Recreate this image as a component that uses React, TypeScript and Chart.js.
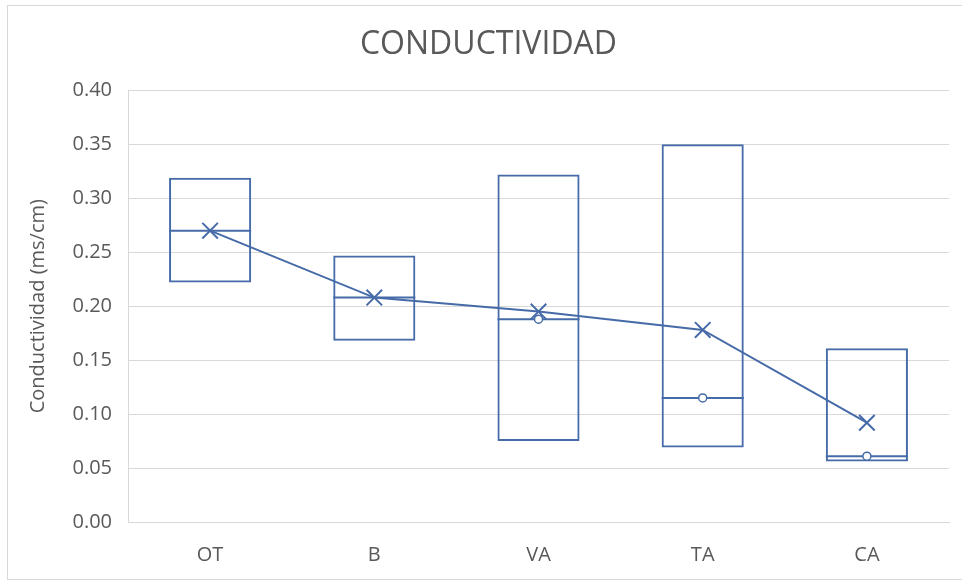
import React, { useEffect, useRef } from "react";
import { Chart, registerables } from "chart.js";

Chart.register(...registerables);

const categories = ["OT", "B", "VA", "TA", "CA"];
const q1 = [0.222, 0.168, 0.075, 0.069, 0.056];
const q3 = [0.319, 0.247, 0.322, 0.35, 0.161];
const medians = [0.27, 0.208, 0.188, 0.115, 0.061];
const means = [0.27, 0.208, 0.195, 0.178, 0.092];
const innerPoints = [null, null, 0.188, 0.115, 0.061];
const yMin = 0;
const yMax = 0.4;
const yStep = 0.05;

const BLUE = "#466BA8";
const TEXT = "#595959";
const GRID = "#d9d9d9";
const FONT = "'Open Sans', sans-serif";

const medianPlugin = {
  id: "medianLines",
  afterDatasetDraw(chart: any, args: any) {
    if (args.index !== 2) return;
    const meta = chart.getDatasetMeta(2);
    const ctx = chart.ctx;
    const y = chart.scales.y;
    ctx.save();
    ctx.strokeStyle = BLUE;
    ctx.lineWidth = 2;
    meta.data.forEach((bar: any, i: number) => {
      const { x, width } = bar.getProps(["x", "width"], true);
      const py = y.getPixelForValue(medians[i]);
      ctx.beginPath();
      ctx.moveTo(x - width / 2, py);
      ctx.lineTo(x + width / 2, py);
      ctx.stroke();
    });
    ctx.restore();
  },
};

export default function App() {
  const ref = useRef<HTMLCanvasElement | null>(null);
  useEffect(() => {
    if (!ref.current) return;
    const chart = new Chart(ref.current, {
      type: "bar",
      data: {
        labels: categories,
        datasets: [
          {
            type: "line",
            label: "inner",
            data: innerPoints as any,
            showLine: false,
            pointStyle: "circle",
            pointRadius: 4,
            pointBackgroundColor: "#ffffff",
            pointBorderColor: BLUE,
            pointBorderWidth: 1.5,
          } as any,
          {
            type: "line",
            label: "mean",
            data: means,
            borderColor: BLUE,
            borderWidth: 2,
            pointStyle: "crossRot",
            pointRadius: 11,
            pointBorderColor: BLUE,
            pointBorderWidth: 2,
            fill: false,
            tension: 0,
          } as any,
          {
            type: "bar",
            label: "box",
            data: categories.map((_, i) => [q1[i], q3[i]]) as any,
            backgroundColor: "rgba(255,255,255,0)",
            borderColor: BLUE,
            borderWidth: 2,
            borderSkipped: false,
            categoryPercentage: 1,
            barPercentage: 0.5,
          } as any,
        ],
      },
      options: {
        animation: false,
        responsive: true,
        maintainAspectRatio: false,
        layout: { padding: { left: 26, right: 11, top: 0, bottom: 0 } },
        plugins: {
          legend: { display: false },
          tooltip: { enabled: false },
          title: {
            display: true,
            text: "CONDUCTIVIDAD",
            color: TEXT,
            font: { family: FONT, size: 32, weight: "normal" },
            padding: { top: 26, bottom: 26 },
          },
        },
        scales: {
          x: {
            grid: { display: false, drawTicks: false },
            border: { display: true, color: GRID },
            ticks: { color: TEXT, font: { family: FONT, size: 20 }, padding: 21 },
            afterFit: (s: any) => {
              s.height = 60;
            },
          },
          y: {
            min: yMin,
            max: yMax,
            grid: { color: GRID, drawTicks: false },
            border: { display: true, color: GRID },
            ticks: {
              stepSize: yStep,
              color: TEXT,
              font: { family: FONT, size: 20 },
              padding: 16,
              callback: (v: any) => Number(v).toFixed(2),
            },
            title: {
              display: true,
              text: "Conductividad (ms/cm)",
              color: TEXT,
              font: { family: FONT, size: 20 },
              padding: { top: 0, bottom: 0 },
            },
            afterFit: (s: any) => {
              s.width = 102;
            },
          },
        },
      },
      plugins: [medianPlugin],
    });
    return () => chart.destroy();
  }, []);

  return (
    <div style={{ position: "fixed", left: 0, top: 0, width: 962, height: 582, background: "#fff" }}>
      <div
        style={{
          position: "absolute",
          left: 7,
          top: 5,
          width: 960,
          height: 575,
          border: "1px solid #d9d9d9",
          boxSizing: "border-box",
        }}
      />
      <canvas ref={ref} />
    </div>
  );
}
